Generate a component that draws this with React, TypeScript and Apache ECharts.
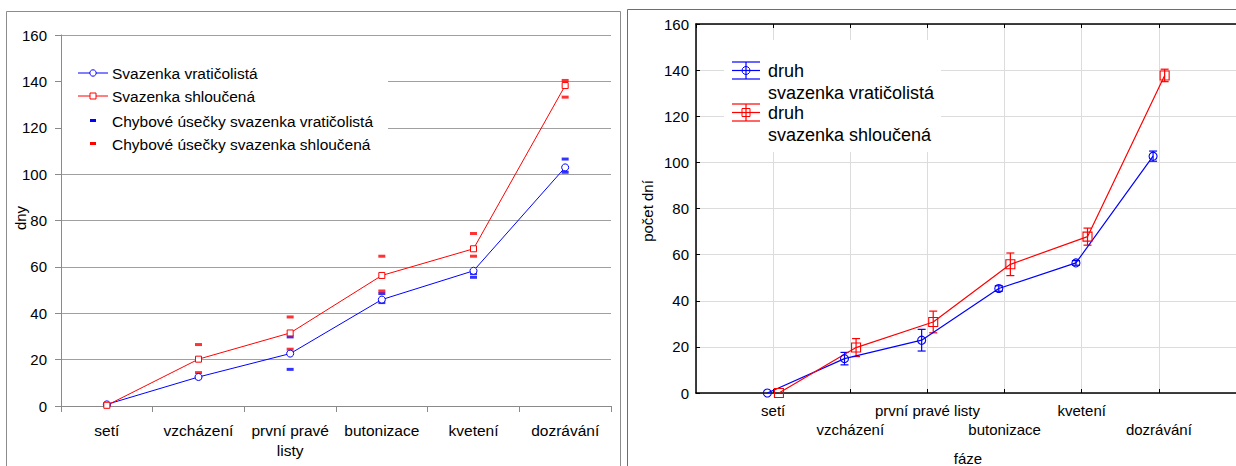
import React, { useEffect, useRef } from "react";
import * as echarts from "echarts";

// ---------- data ----------
const phases = ["setí", "vzcházení", "první pravé listy", "butonizace", "kvetení", "dozrávání"];
const yTicks = { min: 0, max: 160, step: 20 };

// left chart (Excel style)
const leftVratic = [0.7, 12.5, 22.6, 45.9, 58.3, 102.9];
const leftShlouc = [0.3, 20.2, 31.5, 56.3, 67.8, 138.2];
const leftVraticErrHigh = [0.8, 19.8, 29.8, 48.5, 57.1, 106.5];
const leftVraticErrLow = [0.3, 12.1, 15.8, 44.6, 55.5, 100.8];
const leftShloucErrHigh = [0.5, 26.5, 38.4, 64.6, 74.4, 140.4];
const leftShloucErrLow = [0.2, 14.4, 24.5, 49.6, 64.6, 133.2];

// right chart (Statistica style): means and error half-widths
const rightVratic = [0, 14.9, 22.9, 45.3, 56.4, 102.7];
const rightVraticErr = [0, 2.7, 4.7, 1.2, 1.0, 2.2];
const rightShlouc = [0, 19.7, 30.8, 55.8, 67.8, 137.7];
const rightShloucErr = [0, 3.9, 4.7, 4.9, 3.7, 2.7];
const groupOffset = 0.075;

const BLUE = "#0000ff";
const RED = "#ff0000";
const FONT = "Liberation Sans, Arial, sans-serif";

export default function App() {
  const ref = useRef<HTMLDivElement>(null);

  useEffect(() => {
    if (!ref.current) return;
    const chart = echarts.init(ref.current, null, { renderer: "svg" });

    const leftLabels = phases.map((p) => (p === "první pravé listy" ? "první pravé\nlisty" : p));

    const errRender = (color: string) => (params: any, api: any) => {
      const x = api.value(0);
      const y = api.value(1);
      const e = api.value(2);
      if (!e) return { type: "group", children: [] };
      const t = api.coord([x, y + e]);
      const b = api.coord([x, y - e]);
      const w = 4;
      const st = { stroke: color, lineWidth: 1.2 };
      return {
        type: "group",
        children: [
          { type: "line", shape: { x1: t[0], y1: t[1], x2: b[0], y2: b[1] }, style: st },
          { type: "line", shape: { x1: t[0] - w, y1: t[1], x2: t[0] + w, y2: t[1] }, style: st },
          { type: "line", shape: { x1: b[0] - w, y1: b[1], x2: b[0] + w, y2: b[1] }, style: st },
        ],
      };
    };

    const txt = (text: string, x: number, y: number, size: number, extra: any = {}) => ({
      type: "text",
      x,
      y,
      z: 10,
      ...extra,
      style: { text, fill: "#000", font: `${size}px ${FONT}`, verticalAlign: "middle", align: "left", ...(extra.style || {}) },
    });

    const hollow = (c: string) => ({ color: "#fff", borderColor: c, borderWidth: 1 });

    const option: any = {
      animation: false,
      textStyle: { fontFamily: FONT },
      grid: [
        { left: 61, top: 35, width: 550, height: 371 },
        { left: 696, top: 24, width: 548, height: 369 },
      ],
      xAxis: [
        {
          type: "category",
          gridIndex: 0,
          data: leftLabels,
          boundaryGap: true,
          axisLine: { lineStyle: { color: "#8a8a8a" } },
          axisTick: { show: true, length: 6, lineStyle: { color: "#8a8a8a" } },
          axisLabel: { color: "#000", fontSize: 15.5, margin: 14, lineHeight: 20, interval: 0, fontFamily: FONT },
          splitLine: { show: false },
        },
        {
          type: "value",
          gridIndex: 1,
          min: -1,
          max: 6,
          interval: 1,
          axisLine: { onZero: false, lineStyle: { color: "#000", width: 1.5 } },
          axisTick: { show: true, inside: true, length: 4, lineStyle: { color: "#000" } },
          axisLabel: {
            color: "#000",
            fontSize: 15,
            margin: 8,
            lineHeight: 19,
            fontFamily: FONT,
            showMinLabel: false,
            showMaxLabel: false,
            formatter: (v: number) => {
              const i = Math.round(v);
              if (i < 0 || i >= phases.length) return "";
              return i % 2 ? "\n" + phases[i] : phases[i];
            },
          },
          splitLine: { show: true, lineStyle: { color: "#dcdcdc" } },
        },
        {
          type: "value",
          gridIndex: 1,
          position: "top",
          min: -1,
          max: 6,
          interval: 1,
          axisLine: { onZero: false, lineStyle: { color: "#000", width: 1.5 } },
          axisTick: { show: true, inside: true, length: 4, lineStyle: { color: "#000" } },
          axisLabel: { show: false },
          splitLine: { show: false },
        },
      ],
      yAxis: [
        {
          type: "value",
          gridIndex: 0,
          min: yTicks.min,
          max: yTicks.max,
          interval: yTicks.step,
          axisLine: { show: true, lineStyle: { color: "#8a8a8a" } },
          axisTick: { show: true, length: 6, lineStyle: { color: "#8a8a8a" } },
          axisLabel: { color: "#000", fontSize: 15, margin: 14, fontFamily: FONT },
          splitLine: { show: true, lineStyle: { color: "#a0a0a0" } },
        },
        {
          type: "value",
          gridIndex: 1,
          min: yTicks.min,
          max: yTicks.max,
          interval: yTicks.step,
          axisLine: { show: true, onZero: false, lineStyle: { color: "#000", width: 1.5 } },
          axisTick: { show: true, inside: true, length: 4, lineStyle: { color: "#000" } },
          axisLabel: { color: "#000", fontSize: 15, margin: 7, fontFamily: FONT },
          splitLine: { show: true, lineStyle: { color: "#dcdcdc" } },
        },
      ],
      series: [
        // left chart
        {
          type: "line",
          xAxisIndex: 0,
          yAxisIndex: 0,
          data: leftVratic,
          symbol: "circle",
          symbolSize: 7,
          lineStyle: { width: 1, color: BLUE },
          itemStyle: hollow(BLUE),
          z: 3,
        },
        {
          type: "line",
          xAxisIndex: 0,
          yAxisIndex: 0,
          data: leftShlouc,
          symbol: "rect",
          symbolSize: 6,
          lineStyle: { width: 1, color: RED },
          itemStyle: hollow(RED),
          z: 3,
        },
        {
          type: "scatter",
          xAxisIndex: 0,
          yAxisIndex: 0,
          symbol: "rect",
          symbolSize: [7, 3],
          itemStyle: { color: BLUE },
          data: [...leftVraticErrHigh.map((v, i) => [i, v]), ...leftVraticErrLow.map((v, i) => [i, v])],
          z: 2,
        },
        {
          type: "scatter",
          xAxisIndex: 0,
          yAxisIndex: 0,
          symbol: "rect",
          symbolSize: [7, 3],
          itemStyle: { color: RED },
          data: [...leftShloucErrHigh.map((v, i) => [i, v]), ...leftShloucErrLow.map((v, i) => [i, v])],
          z: 2,
        },
        // right chart
        {
          type: "line",
          xAxisIndex: 1,
          yAxisIndex: 1,
          data: rightVratic.map((v, i) => [i - groupOffset, v]),
          symbol: "circle",
          symbolSize: 8,
          lineStyle: { width: 1.2, color: BLUE },
          itemStyle: { color: "none", borderColor: BLUE, borderWidth: 1.1 },
          z: 5,
        },
        {
          type: "line",
          xAxisIndex: 1,
          yAxisIndex: 1,
          data: rightShlouc.map((v, i) => [i + groupOffset, v]),
          symbol: "rect",
          symbolSize: 9,
          lineStyle: { width: 1.2, color: RED },
          itemStyle: { color: "none", borderColor: RED, borderWidth: 1.1 },
          z: 5,
        },
        {
          type: "custom",
          xAxisIndex: 1,
          yAxisIndex: 1,
          renderItem: errRender(BLUE),
          encode: { x: 0, y: 1 },
          data: rightVratic.map((v, i) => [i - groupOffset, v, rightVraticErr[i]]),
          z: 4,
        },
        {
          type: "custom",
          xAxisIndex: 1,
          yAxisIndex: 1,
          renderItem: errRender(RED),
          encode: { x: 0, y: 1 },
          data: rightShlouc.map((v, i) => [i + groupOffset, v, rightShloucErr[i]]),
          z: 4,
        },
      ],
      graphic: [
        // frames
        { type: "rect", z: 0, shape: { x: 6.5, y: 11.5, width: 614, height: 470 }, style: { fill: "none", stroke: "#8c8c8c", lineWidth: 1 } },
        { type: "rect", z: 0, shape: { x: 627.5, y: 9.5, width: 620, height: 470 }, style: { fill: "none", stroke: "#6e6e6e", lineWidth: 1 } },
        // left legend
        { type: "rect", z: 1, shape: { x: 62, y: 42, width: 326, height: 124 }, style: { fill: "#fff" } },
        { type: "line", z: 10, shape: { x1: 78, y1: 73, x2: 108, y2: 73 }, style: { stroke: BLUE, lineWidth: 1 } },
        { type: "circle", z: 11, shape: { cx: 93, cy: 73, r: 3.2 }, style: { fill: "#fff", stroke: BLUE, lineWidth: 1 } },
        txt("Svazenka vratičolistá", 112, 73, 15.5),
        { type: "line", z: 10, shape: { x1: 78, y1: 96, x2: 108, y2: 96 }, style: { stroke: RED, lineWidth: 1 } },
        { type: "rect", z: 11, shape: { x: 90, y: 93, width: 6, height: 6 }, style: { fill: "#fff", stroke: RED, lineWidth: 1 } },
        txt("Svazenka shloučená", 112, 96, 15.5),
        { type: "rect", z: 10, shape: { x: 90, y: 119, width: 6, height: 3 }, style: { fill: BLUE } },
        txt("Chybové úsečky svazenka vratičolistá", 112, 121, 15.5),
        { type: "rect", z: 10, shape: { x: 90, y: 142, width: 6, height: 3 }, style: { fill: RED } },
        txt("Chybové úsečky svazenka shloučená", 112, 144, 15.5),
        // left axis name
        txt("dny", 20, 218, 15, { rotation: Math.PI / 2, style: { align: "center" } }),
        // right legend
        { type: "rect", z: 1, shape: { x: 724, y: 40, width: 217, height: 112 }, style: { fill: "#fff" } },
        { type: "line", z: 10, shape: { x1: 732, y1: 62, x2: 760, y2: 62 }, style: { stroke: BLUE, lineWidth: 1.2 } },
        { type: "line", z: 10, shape: { x1: 732, y1: 79, x2: 760, y2: 79 }, style: { stroke: BLUE, lineWidth: 1.2 } },
        { type: "line", z: 10, shape: { x1: 732, y1: 70.5, x2: 760, y2: 70.5 }, style: { stroke: BLUE, lineWidth: 1.2 } },
        { type: "line", z: 10, shape: { x1: 746, y1: 62, x2: 746, y2: 79 }, style: { stroke: BLUE, lineWidth: 1.2 } },
        { type: "circle", z: 11, shape: { cx: 746, cy: 70.5, r: 4 }, style: { fill: "none", stroke: BLUE, lineWidth: 1 } },
        txt("druh", 768, 71, 18),
        txt("svazenka vratičolistá", 768, 92.5, 18),
        { type: "line", z: 10, shape: { x1: 732, y1: 104, x2: 760, y2: 104 }, style: { stroke: RED, lineWidth: 1.2 } },
        { type: "line", z: 10, shape: { x1: 732, y1: 121, x2: 760, y2: 121 }, style: { stroke: RED, lineWidth: 1.2 } },
        { type: "line", z: 10, shape: { x1: 732, y1: 112.5, x2: 760, y2: 112.5 }, style: { stroke: RED, lineWidth: 1.2 } },
        { type: "line", z: 10, shape: { x1: 746, y1: 104, x2: 746, y2: 121 }, style: { stroke: RED, lineWidth: 1.2 } },
        { type: "rect", z: 11, shape: { x: 742, y: 108.5, width: 8, height: 8 }, style: { fill: "none", stroke: RED, lineWidth: 1 } },
        txt("druh", 768, 113, 18),
        txt("svazenka shloučená", 768, 134.5, 18),
        // right axis names
        txt("počet dní", 647, 211, 15, { rotation: Math.PI / 2, style: { align: "center" } }),
        txt("fáze", 968, 458, 15, { style: { align: "center" } }),
      ],
    };

    chart.setOption(option);
    return () => chart.dispose();
  }, []);

  return (
    <div
      ref={ref}
      style={{ position: "fixed", left: 0, top: 0, width: 1236, height: 466, background: "#fff" }}
    />
  );
}
